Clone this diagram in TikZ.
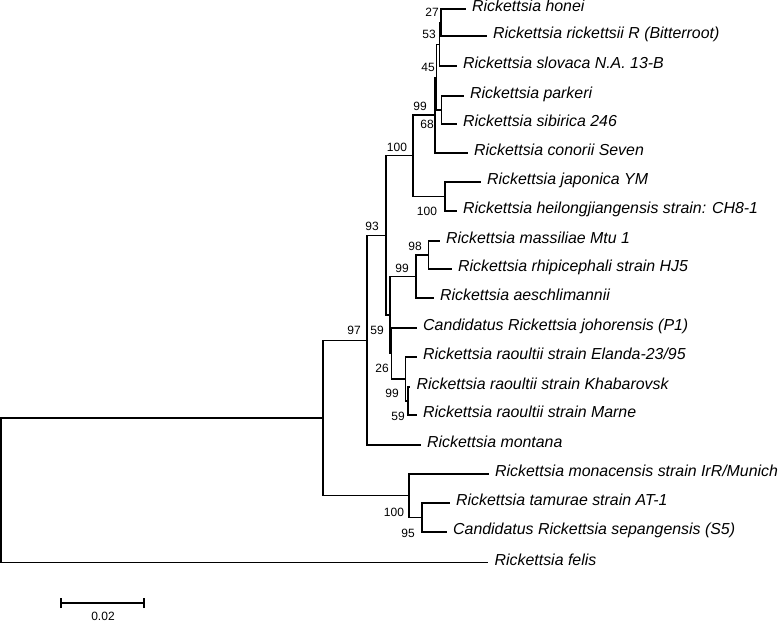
\documentclass[tikz,border=0pt]{standalone}
\usepackage{fontspec}
\setmainfont{Liberation Sans}
\begin{document}
\begin{tikzpicture}[x=1pt,y=-1pt,
  br/.style={line width=1.1pt,line cap=rect},
  leaf/.style={anchor=west,inner xsep=7pt,inner ysep=0pt,text height=0.75em,text depth=0.2em,
    font=\fontsize{15.9}{18}\selectfont\itshape},
  boot/.style={anchor=center,inner sep=0pt,font=\fontsize{12}{14}\selectfont}]
\useasboundingbox (0,0) rectangle (779,623);
% internal nodes
\coordinate (root) at (1,490);
\coordinate (n323) at (323,418);
\coordinate (n97) at (367,340.2);
\coordinate (n93) at (386,235.4);
\coordinate (n100b) at (413,155.8);
\coordinate (n99t) at (435,115);
\coordinate (nX) at (436.5,77.1);
\coordinate (nB) at (439.5,44.25);
\coordinate (nA) at (441,22.5);
\coordinate (nC) at (441.5,110);
\coordinate (njh) at (445,196.5);
\coordinate (n59) at (390,315);
\coordinate (n99m) at (416,276.5);
\coordinate (n98) at (428.5,255);
\coordinate (nJ) at (391.5,353.5);
\coordinate (nE) at (405.5,379);
\coordinate (nK) at (408,401);
\coordinate (n100m) at (409,495.8);
\coordinate (n95) at (422,517.5);
% leaves
\node[leaf] (honei) at (465,9) {Rickettsia honei};
\node[leaf] (rick) at (486,36) {Rickettsia rickettsii R (Bitterroot)};
\node[leaf] (slov) at (456,66) {Rickettsia slovaca N.A. 13-B};
\node[leaf] (park) at (463,96) {Rickettsia parkeri};
\node[leaf] (sib) at (456,124) {Rickettsia sibirica 246};
\node[leaf] (con) at (467,153) {Rickettsia conorii Seven};
\node[leaf] (jap) at (480,182) {Rickettsia japonica YM};
\node[leaf] (heil) at (456,211) {Rickettsia heilongjiangensis strain: CH8-1};
\node[leaf] (mass) at (439,241) {Rickettsia massiliae Mtu 1};
\node[leaf] (rhip) at (451,269) {Rickettsia rhipicephali strain HJ5};
\node[leaf] (aesch) at (433,298) {Rickettsia aeschlimannii};
\node[leaf] (johor) at (416,328) {Candidatus Rickettsia johorensis (P1)};
\node[leaf] (elanda) at (416,357) {Rickettsia raoultii strain Elanda-23/95};
\node[leaf] (khab) at (409.5,387) {Rickettsia raoultii strain Khabarovsk};
\node[leaf] (marne) at (416,415) {Rickettsia raoultii strain Marne};
\node[leaf] (mont) at (420,445) {Rickettsia montana};
\node[leaf] (mona) at (488,474) {Rickettsia monacensis strain IrR/Munich};
\node[leaf] (tam) at (449,503) {Rickettsia tamurae strain AT-1};
\node[leaf] (sep) at (446,532) {Candidatus Rickettsia sepangensis (S5)};
\node[leaf] (felis) at (487.5,562.5) {Rickettsia felis};
% branches
\draw[br] (root) |- (n323);
\draw[br] (root) |- (felis.west);
\draw[br] (n323) |- (n97);
\draw[br] (n323) |- (n100m);
\draw[br] (n97) |- (n93);
\draw[br] (n97) |- (mont.west);
\draw[br] (n93) |- (n100b);
\draw[br] (n93) |- (n59);
\draw[br] (n100b) |- (n99t);
\draw[br] (n100b) |- (njh);
\draw[br] (n99t) |- (nX);
\draw[br] (n99t) |- (con.west);
\draw[br] (nX) |- (nB);
\draw[br] (nX) |- (nC);
\draw[br] (nB) |- (nA);
\draw[br] (nB) |- (slov.west);
\draw[br] (nA) |- (honei.west);
\draw[br] (nA) |- (rick.west);
\draw[br] (nC) |- (park.west);
\draw[br] (nC) |- (sib.west);
\draw[br] (njh) |- (jap.west);
\draw[br] (njh) |- (heil.west);
\draw[br] (n59) |- (n99m);
\draw[br] (n59) |- (nJ);
\draw[br] (n99m) |- (n98);
\draw[br] (n99m) |- (aesch.west);
\draw[br] (n98) |- (mass.west);
\draw[br] (n98) |- (rhip.west);
\draw[br] (nJ) |- (johor.west);
\draw[br] (nJ) |- (nE);
\draw[br] (nE) |- (elanda.west);
\draw[br] (nE) |- (nK);
\draw[br] (nK) |- (khab.west);
\draw[br] (nK) |- (marne.west);
\draw[br] (n100m) |- (mona.west);
\draw[br] (n100m) |- (n95);
\draw[br] (n95) |- (tam.west);
\draw[br] (n95) |- (sep.west);
% bootstrap values
\node[boot] (b27) at (432,12) {27};
\node[boot] (b53) at (429,34) {53};
\node[boot] (b45) at (428,67) {45};
\node[boot] (b99t) at (420,106) {99};
\node[boot] (b68) at (427,124) {68};
\node[boot] (b100b) at (397,147) {100};
\node[boot] (b100h) at (427,211) {100};
\node[boot] (b93) at (372,226) {93};
\node[boot] (b98) at (415,246) {98};
\node[boot] (b99m) at (402,268) {99};
\node[boot] (b97) at (354,330) {97};
\node[boot] (b59a) at (377,330) {59};
\node[boot] (b26) at (382,368) {26};
\node[boot] (b99r) at (392,393) {99};
\node[boot] (b59b) at (398,416) {59};
\node[boot] (b100m) at (394,512) {100};
\node[boot] (b95) at (408,533) {95};
% scale bar
\coordinate (sbL) at (61,603);
\coordinate (sbR) at (144,603);
\draw[br,line cap=butt] (sbL) -- (sbR);
\draw[br,line cap=butt] ([yshift=-5pt]sbL) -- ([yshift=5pt]sbL);
\draw[br,line cap=butt] ([yshift=-5pt]sbR) -- ([yshift=5pt]sbR);
\node[boot] (sbt) at (103,616) {0.02};
\end{tikzpicture}
\end{document}
